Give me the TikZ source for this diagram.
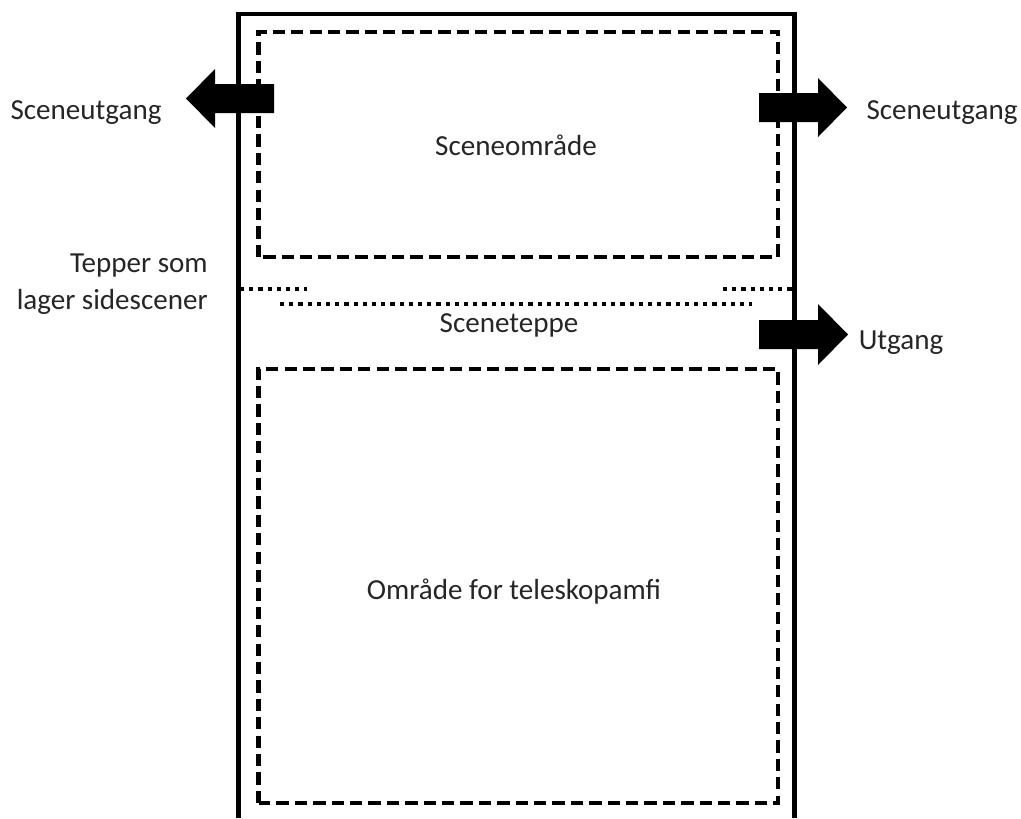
\documentclass[tikz,border=0pt]{standalone}
\usepackage{fontspec}
\setmainfont{Carlito}
\begin{document}
\begin{tikzpicture}[x=0.75pt,y=-0.75pt,
  wall/.style={line width=3.6pt,line cap=butt},
  zone/.style={line width=3.2pt,dash pattern=on 9.2pt off 4.6pt},
  curtain/.style={line width=3.2pt,dash pattern=on 3.2pt off 3.7pt},
  blockarrow/.style={fill=black,draw=none},
  label/.style={font=\fontsize{21.8pt}{27.8pt}\selectfont,inner sep=0pt,text=black!85,anchor=base}]
\useasboundingbox (0,0) rectangle (1021,818);
\fill[white] (0,0) rectangle (1021,818);
\draw[wall] (238.5,818) -- (238.5,14) -- (794.5,14) -- (794.5,818);
\draw[zone] (258.5,257) -- (258.5,32) -- (778,32) -- (778,257) -- cycle;
\draw[zone] (258.5,803) -- (258.5,369) -- (778,369) -- (778,803) -- cycle;
\draw[curtain] (240,289) -- (307,289);
\draw[curtain] (723,289) -- (793,289);
\draw[curtain] (280,304) -- (752,304);
\fill[blockarrow] (274,84) -- (215,84) -- (215,69) -- (186,98.5) -- (215,128) -- (215,113) -- (274,113) -- cycle;
\fill[blockarrow] (759,93) -- (818,93) -- (818,78) -- (847,107.5) -- (818,137) -- (818,122) -- (759,122) -- cycle;
\fill[blockarrow] (759,320) -- (818,320) -- (818,304) -- (848,334.5) -- (818,365) -- (818,349) -- (759,349) -- cycle;
\node[label] (a) at (86,119) {Sceneutgang};
\node[label] (b) at (942,119) {Sceneutgang};
\node[label] (c) at (516,155) {Sceneområde};
\node[label,align=right,anchor=east] (d) at (208,284) {Tepper som\\lager sidescener};
\node[label] (e) at (509,332) {Sceneteppe};
\node[label] (f) at (901,349) {Utgang};
\node[label] (g) at (514,599) {Område for teleskopamfi};
\end{tikzpicture}
\end{document}
